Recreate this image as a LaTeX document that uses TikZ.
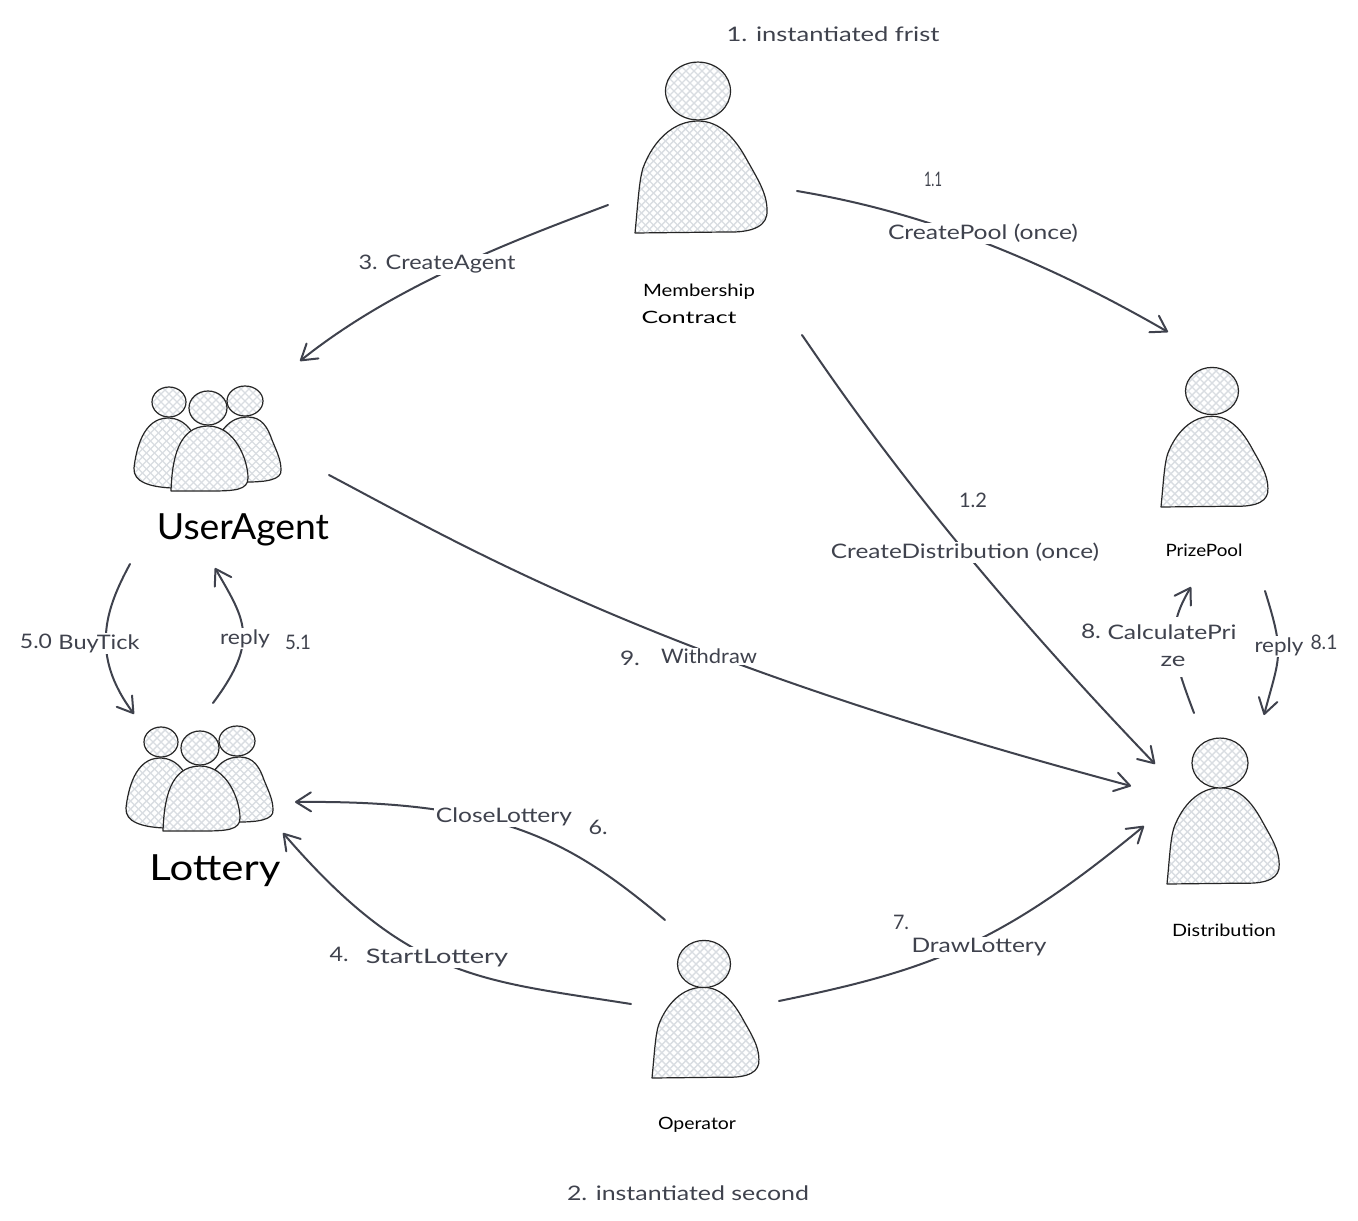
\documentclass[tikz,border=0pt]{standalone}
\usepackage{fontspec}
\usepackage{graphicx}
\setmainfont{Lato}
\usetikzlibrary{arrows.meta}
\definecolor{inkc}{HTML}{3F424D}
\definecolor{hatchc}{HTML}{D9DDE2}
\tikzset{
  x=1pt,y=-1pt,
  hatchline/.style={draw=hatchc,line width=1.4pt},
  shape line/.style={draw=black!85,line width=1.2pt,line join=round},
  hatched/.style={shape line,fill=white,path picture={
    \begin{scope}
      \pgftransformreset
      \begin{scope}[shift={(path picture bounding box.center)}]
        \foreach \k in {-30,...,30}{
          \draw[hatchline] (\k*8-130,-130) -- ++(260,260);
          \draw[hatchline] (\k*8-130,130) -- ++(260,-260);
        }
      \end{scope}
    \end{scope}}},
  link/.style={draw=inkc,line width=2pt,line cap=round,-{Straight Barb[length=15pt,width=19pt,line width=2pt,round]}},
  base label/.style={inner sep=1.5pt,text=inkc,font=\fontsize{20}{24}\selectfont,anchor=center,yshift=-1.5pt},
  on line/.style={base label,fill=white},
  tall line/.style={on line,minimum height=31pt},
  free label/.style={base label},
  role label/.style={base label,text=black,font=\fontsize{17}{20}\selectfont},
  big label/.style={base label,text=black,font=\fontsize{36}{42}\selectfont,yshift=-3.5pt},
}
\newcommand\lab[6][free label]{\node[#1] (#2) at (#3,#4) {\resizebox{#5pt}{\height}{#6}};}
\newcommand\person[7]{%
  \begin{scope}[shift={(#1,#2)},xscale=#3,yscale=#4]
    \path[hatched] (0,0) .. controls (3,-30) and (4,-52) .. (8,-65)
      .. controls (18,-92) and (38,-112) .. (63,-112)
      .. controls (85,-112) and (100,-95) .. (112,-73)
      .. controls (122,-55) and (132,-40) .. (132,-23)
      .. controls (133,-8) and (120,0) .. (90,-1) -- cycle;
  \end{scope}
  \path[hatched] (#5,#6) ellipse [x radius=#7,y radius=#7*0.89];
}
\newcommand\crowd[2]{%
  \begin{scope}[shift={(#1,#2)}]
    \path[hatched] (172,488) .. controls (150,487) and (133,482) .. (134,468)
      .. controls (136,450) and (143,418) .. (168,418)
      .. controls (178,418) and (186,423) .. (192,432) -- cycle;
    \path[hatched] (222,431) .. controls (228,423) and (235,417) .. (248,417)
      .. controls (262,417) and (268,428) .. (272,440)
      .. controls (277,452) and (281,460) .. (281,470)
      .. controls (282,480) and (265,482) .. (247,482) -- cycle;
    \path[hatched] (171,491) .. controls (172,460) and (178,426) .. (208,426)
      .. controls (235,426) and (248,460) .. (248,478)
      .. controls (248,490) and (235,491) .. (210,491) -- cycle;
    \path[hatched] (169,402) ellipse [x radius=17,y radius=15];
    \path[hatched] (245,401) ellipse [x radius=18,y radius=15];
    \path[hatched] (208,408) ellipse [x radius=19,y radius=17];
  \end{scope}
}
\begin{document}
\begin{tikzpicture}
\useasboundingbox (0,0) rectangle (1358,1221);
\fill[white] (0,0) rectangle (1358,1221);
% actors
\person{635}{233}{1}{1}{698}{91}{32.5}
\person{1161}{507}{0.81}{0.81}{1212}{391}{26.5}
\person{1167}{884}{0.85}{0.86}{1220}{763}{28}
\person{652}{1078}{0.81}{0.81}{704}{964}{26.5}
\crowd{0}{0}
\crowd{-8}{340}
% connector ends
\coordinate (mA) at (608,205);
\coordinate (uaIn) at (300,361);
\coordinate (mP) at (797,191);
\coordinate (pIn) at (1168,332);
\coordinate (mD) at (802,335);
\coordinate (dIn) at (1155,764);
\coordinate (uaD) at (329,475);
\coordinate (dIn2) at (1131,786);
\coordinate (uaL) at (130,564);
\coordinate (lIn) at (134,714);
\coordinate (lU) at (213,703);
\coordinate (uaIn2) at (215,568);
\coordinate (dP) at (1194,713);
\coordinate (pIn2) at (1191,587);
\coordinate (pD) at (1265,591);
\coordinate (dIn3) at (1264,715);
\coordinate (oC) at (665,920);
\coordinate (lIn2) at (295,802);
\coordinate (oS) at (631,1004);
\coordinate (lIn3) at (283,833);
\coordinate (oD) at (779,1001);
\coordinate (dIn4) at (1144,826);
% connectors
\draw[link] (mA) .. controls (515,240) and (395,285) .. (uaIn);
\draw[link] (mP) .. controls (880,205) and (1000,235) .. (pIn);
\draw[link] (mD) .. controls (840,390) and (940,540) .. (dIn);
\draw[link] (uaD) .. controls (480,555) and (660,660) .. (dIn2);
\draw[link] (uaL) .. controls (105,610) and (90,655) .. (lIn);
\draw[link] (lU) .. controls (260,640) and (245,620) .. (uaIn2);
\draw[link] (dP) .. controls (1172,655) and (1165,630) .. (pIn2);
\draw[link] (pD) .. controls (1285,655) and (1280,655) .. (dIn3);
\draw[link] (oC) .. controls (570,840) and (500,800) .. (lIn2);
\draw[link] (oS) .. controls (480,980) and (410,980) .. (lIn3);
\draw[link] (oD) .. controls (930,970) and (1000,945) .. (dIn4);
% labels on connectors
\lab[on line]{lCreateAgent}{437}{263}{157}{3. CreateAgent}
\lab[on line]{lCreatePool}{983}{232}{190}{CreatePool (once)}
\lab[on line]{lCreateDist}{965}{551}{268}{CreateDistribution (once)}
\lab[on line]{lWithdraw}{709}{655}{96}{Withdraw}
\lab[on line]{lBuyTick}{99}{642}{81}{BuyTick}
\lab[on line]{lReplyA}{245}{637}{50}{reply}
\lab[tall line]{lCalcB}{1173}{660}{25}{ze}
\lab[tall line]{lCalcA}{1172}{631}{129}{CalculatePri}
\lab[on line]{lReplyB}{1279}{645}{49}{reply}
\lab[on line]{lClose}{504}{815}{136}{CloseLottery}
\lab[on line]{lStart}{437}{956}{142}{StartLottery}
\lab[on line]{lDraw}{979}{946}{135}{DrawLottery}
% free labels
\lab{tFirst}{833}{33}{213}{1. instantiated frist}
\lab{tSecond}{688}{1192}{242}{2. instantiated second}
\lab{tOneOne}{933}{178}{18}{1.1}
\lab{tOneTwo}{973}{499}{28}{1.2}
\lab{tNine}{630}{657}{20}{9.}
\lab{tFiveZero}{36}{640}{32}{5.0}
\lab{tFiveOne}{298}{641}{26}{5.1}
\lab{tEight}{1091}{630}{20}{8.}
\lab{tEightOne}{1324}{641}{27}{8.1}
\lab{tSix}{598}{826}{19}{6.}
\lab{tFour}{339}{953}{19}{4.}
\lab{tSeven}{901}{921}{16}{7.}
% actor names
\lab[role label]{nMemberA}{699}{290}{112}{Membership}
\lab[role label]{nMemberB}{689}{316}{95}{Contract}
\lab[role label]{nPrize}{1204}{549}{77}{PrizePool}
\lab[role label]{nDist}{1224}{929}{104}{Distribution}
\lab[role label]{nOper}{697}{1123}{78}{Operator}
\lab[big label]{nAgent}{243}{525}{172}{UserAgent}
\lab[big label]{nLottery}{215}{866}{131}{Lottery}
\end{tikzpicture}
\end{document}
